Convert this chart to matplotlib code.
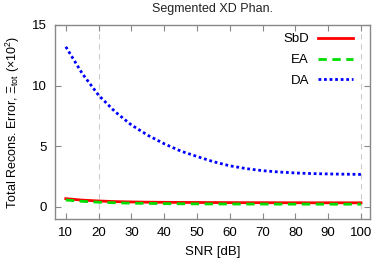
import matplotlib
matplotlib.use("Agg")
import matplotlib.pyplot as plt

# SNR sweep and total reconstruction error (x10^2)
snr = [10, 15, 20, 25, 30, 35, 40, 45, 50, 55, 60, 65, 70, 75, 80, 85, 90, 95, 100]
err_sbd = [0.67, 0.55, 0.48, 0.43, 0.40, 0.38, 0.37, 0.36, 0.355, 0.35, 0.345, 0.34, 0.34,
           0.335, 0.335, 0.33, 0.33, 0.33, 0.33]
err_ea = [0.56, 0.45, 0.38, 0.33, 0.30, 0.28, 0.26, 0.25, 0.24, 0.235, 0.23, 0.225, 0.225,
          0.22, 0.22, 0.22, 0.215, 0.215, 0.215]
err_da = [13.2, 11.0, 9.2, 7.85, 6.75, 5.9, 5.2, 4.6, 4.15, 3.72, 3.38, 3.15, 2.98,
          2.87, 2.79, 2.74, 2.71, 2.69, 2.67]

plt.rcParams['font.family'] = ['Liberation Sans', 'DejaVu Sans']
plt.rcParams['mathtext.fontset'] = 'custom'
plt.rcParams['mathtext.rm'] = 'Liberation Sans'
plt.rcParams['mathtext.it'] = 'Liberation Sans:italic'

fig = plt.figure(figsize=(3.74, 2.6), dpi=100)
ax = fig.add_axes([0.147, 0.158, 0.842, 0.746])

# only two grid lines are visible in the original
for gx in [20, 100]:
    ax.axvline(gx, color='#cccccc', linestyle=(0, (5, 4)), linewidth=0.8, zorder=0)

ax.plot(snr, err_sbd, color='#ff0000', linewidth=2, label='SbD')
ax.plot(snr, err_ea, color='#00dd00', linewidth=2, linestyle=(0, (3, 2)), label='EA')
ax.plot(snr, err_da, color='#0000ff', linewidth=2, linestyle=(0, (1, 1)), label='DA')

ax.set_xlim(6.7, 102.7)
ax.set_ylim(-1, 15)
ax.set_xticks(range(10, 101, 10))
ax.set_yticks([0, 5, 10, 15])

ax.tick_params(direction='in', top=True, right=True, length=4, width=0.8,
               color='#888888', labelsize=9.5, pad=6)
for s in ax.spines.values():
    s.set_color('#888888')
    s.set_linewidth(1)

ax.set_xlabel('SNR [dB]', fontsize=9.5, labelpad=5)
ax.set_ylabel(r'Total Recons. Error, $\Xi_{\rm tot}$ ($\times 10^2$)', fontsize=9, labelpad=7)
ax.set_title('Segmented XD Phan.', fontsize=9, pad=9, color='#222222')

ax.legend(loc='upper right', bbox_to_anchor=(0.987, 1.026), frameon=False,
          markerfirst=False, fontsize=9.5, handlelength=2.6, handletextpad=0.7,
          labelspacing=0.65, borderaxespad=0.6)

fig.savefig('out.png', dpi=100)
